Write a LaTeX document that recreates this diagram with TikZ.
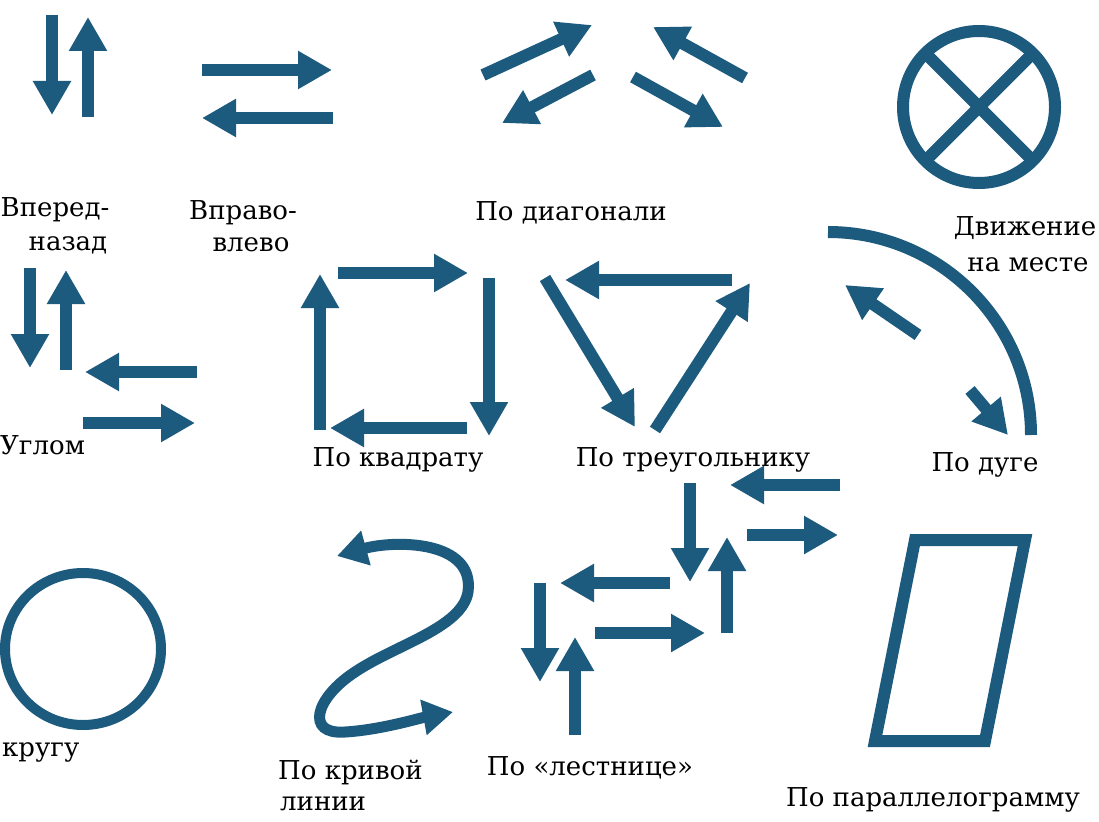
\documentclass[tikz,border=0pt]{standalone}
\usepackage{fontspec}
\setmainfont{DejaVu Serif}
\usetikzlibrary{arrows.meta}
\definecolor{ink}{RGB}{28,90,126}
\begin{document}
\begin{tikzpicture}[x=1pt,y=-1pt,
  arr/.style={draw=ink, line width=12pt, -{Triangle[width=36pt,length=34pt]}},
  sarr/.style={draw=ink, line width=11pt, {Triangle[width=34pt,length=30pt]}-{Triangle[width=34pt,length=30pt]}},
  ring/.style={draw=ink, line width=12pt},
  lbl/.style={inner sep=0pt, text=black, font=\rmfamily\fontsize{26pt}{31pt}\selectfont}]
\fill[white] (0,0) rectangle (1099,821);
\useasboundingbox (0,0) rectangle (1099,821);

% Вперед-назад
\draw[arr] (52,15) -- (52,115);
\draw[arr] (88,117) -- (88,17);
\node[lbl] (t1) at (55,210) {Вперед-};
\node[lbl] (t2) at (68,245) {назад};

% Вправо-влево
\draw[arr] (202,70) -- (332,70);
\draw[arr] (333,118) -- (202,118);
\node[lbl] (t3) at (243,213) {Вправо-};
\node[lbl] (t4) at (251,245) {влево};

% По диагонали
\draw[arr] (483,75) -- (592,25);
\draw[arr] (593,75) -- (502,123);
\draw[arr] (745,78) -- (653,27);
\draw[arr] (633,77) -- (723,127);
\node[lbl] (t5) at (571,213) {По диагонали};

% Движение на месте
\draw[ring] (979,107) circle[radius=76pt];
\draw[ring] (925,53) -- (1033,161);
\draw[ring] (1033,53) -- (925,161);
\node[lbl] (t6) at (1025,228) {Движение};
\node[lbl] (t7) at (1028,265) {на месте};

% Углом
\draw[arr] (30,268) -- (30,368);
\draw[arr] (66,370) -- (66,270);
\draw[arr] (197,372) -- (85,372);
\draw[arr] (83,423) -- (195,423);
\node[lbl, anchor=west] (t8) at (0,445) {Углом};

% По квадрату
\draw[arr] (338,273) -- (468,273);
\draw[arr] (489,278) -- (489,436);
\draw[arr] (467,428) -- (330,428);
\draw[arr] (320,430) -- (320,274);
\node[lbl] (t9) at (398,460) {По квадрату};

% По треугольнику
\draw[arr] (732,280) -- (565,280);
\draw[arr] (545,278) -- (635,427);
\draw[arr] (655,430) -- (750,283);
\node[lbl] (t10) at (693,460) {По треугольнику};

% По дуге
\draw[ring] (828,232) arc[start angle=90, end angle=0, radius=203pt];
\draw[arr] (918,335) -- (845,285);
\draw[arr] (970,390) -- (1008,435);
\node[lbl] (t11) at (985,465) {По дуге};

% По кругу
\draw[draw=ink, line width=10pt] (83,649) ellipse[x radius=78pt, y radius=76pt];
\node[lbl, anchor=west] (t12) at (2,752) {кругу};

% По кривой линии
\draw[sarr] (337,556) .. controls (395,540) and (475,540) .. (468,592)
  .. controls (462,628) and (395,645) .. (355,672)
  .. controls (315,698) and (305,735) .. (345,732)
  .. controls (380,730) and (420,718) .. (453,712);
\node[lbl, anchor=west] (t13) at (278,772) {По кривой};
\node[lbl, anchor=west] (t14) at (280,804) {линии};

% По «лестнице»
\draw[arr] (840,485) -- (730,485);
\draw[arr] (747,535) -- (838,535);
\draw[arr] (690,483) -- (690,582);
\draw[arr] (727,633) -- (727,537);
\draw[arr] (670,583) -- (560,583);
\draw[arr] (595,633) -- (705,633);
\draw[arr] (540,583) -- (540,682);
\draw[arr] (575,735) -- (575,637);
\node[lbl] (t15) at (590,768) {По «лестнице»};

% По параллелограмму
\draw[ring] (915,540) -- (1025,540) -- (985,741) -- (875,741) -- cycle;
\node[lbl] (t16) at (933,800) {По параллелограмму};
\end{tikzpicture}
\end{document}
